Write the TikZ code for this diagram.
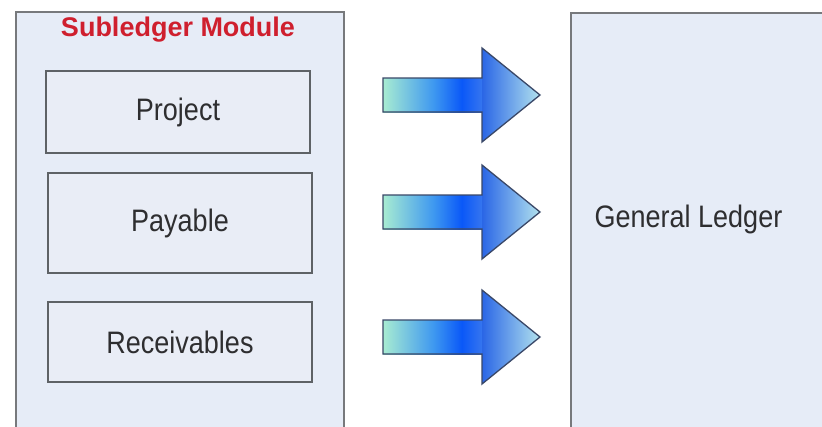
\documentclass[tikz,border=0pt]{standalone}
\usepackage{fontspec}
\setmainfont{Liberation Sans}
\usetikzlibrary{shadings}
\definecolor{boxfill}{HTML}{E6ECF7}
\definecolor{infill}{HTML}{E9EDF6}
\definecolor{outline}{HTML}{77797C}
\definecolor{inline}{HTML}{5E6266}
\definecolor{titlered}{HTML}{CF1F2E}
\definecolor{txt}{HTML}{2E2E30}
\definecolor{sA}{HTML}{A8ECD2}
\definecolor{sB}{HTML}{3E98F0}
\definecolor{sC}{HTML}{0A58F8}
\definecolor{sD}{HTML}{3A78EE}
\definecolor{headL}{HTML}{2A66E6}
\definecolor{headR}{HTML}{B2E2EE}
\definecolor{arrline}{HTML}{3A4868}
\pgfdeclarehorizontalshading{shaftshade}{100bp}{color(0bp)=(sA); color(25bp)=(sA); color(50bp)=(sB); color(64bp)=(sC); color(75bp)=(sD); color(100bp)=(sD)}
\newcommand{\tallt}[1]{\scalebox{1}[1.15]{#1}}
\tikzset{
  outerbox/.style={draw=outline, line width=2pt, fill=boxfill, rectangle, inner sep=0pt},
  inbox/.style={draw=inline, line width=2.2pt, fill=infill, rectangle, inner sep=0pt,
    minimum width=264, minimum height=82, text=txt, font=\fontsize{27}{30}\selectfont},
  title/.style={text=titlered, font=\fontsize{27}{30}\selectfont\bfseries, inner sep=0pt},
  gltxt/.style={text=txt, font=\fontsize{27}{30}\selectfont, inner sep=0pt},
  arrowline/.style={draw=arrline, line width=1.3pt, line join=miter}
}
\begin{document}
\begin{tikzpicture}[x=1pt,y=-1pt]
\useasboundingbox (0,0) rectangle (822,426);
\fill[white] (0,0) rectangle (822,426);
\clip (0,0) rectangle (822,426);
% outer boxes
\node[outerbox, minimum width=328, minimum height=428] (sub) at (180,226) {};
\node[outerbox, minimum width=280, minimum height=428] (gl) at (711,227) {};
\node[title] (subtitle) at (178,30) {Subledger Module};
\node[gltxt] (gltext) at (688.5,219) {\tallt{General Ledger}};
% inner boxes
\node[inbox] (proj) at (178,112) {\tallt{Project}};
\node[inbox, minimum height=100] (pay) at (180,223) {\tallt{Payable}};
\node[inbox, minimum height=80] (rec) at (180,342) {\tallt{Receivables}};
% block arrows
\foreach \c in {95,212,337} {
  \shade[shading=shaftshade] (383,\c-17) rectangle (484,\c+17);
  \shade[left color=headL, right color=headR] (482,\c-47) -- (540,\c) -- (482,\c+47) -- cycle;
  \draw[arrowline] (383,\c-17) -- (482,\c-17) -- (482,\c-47) -- (540,\c) -- (482,\c+47) -- (482,\c+17) -- (383,\c+17) -- cycle;
}
\end{tikzpicture}
\end{document}
